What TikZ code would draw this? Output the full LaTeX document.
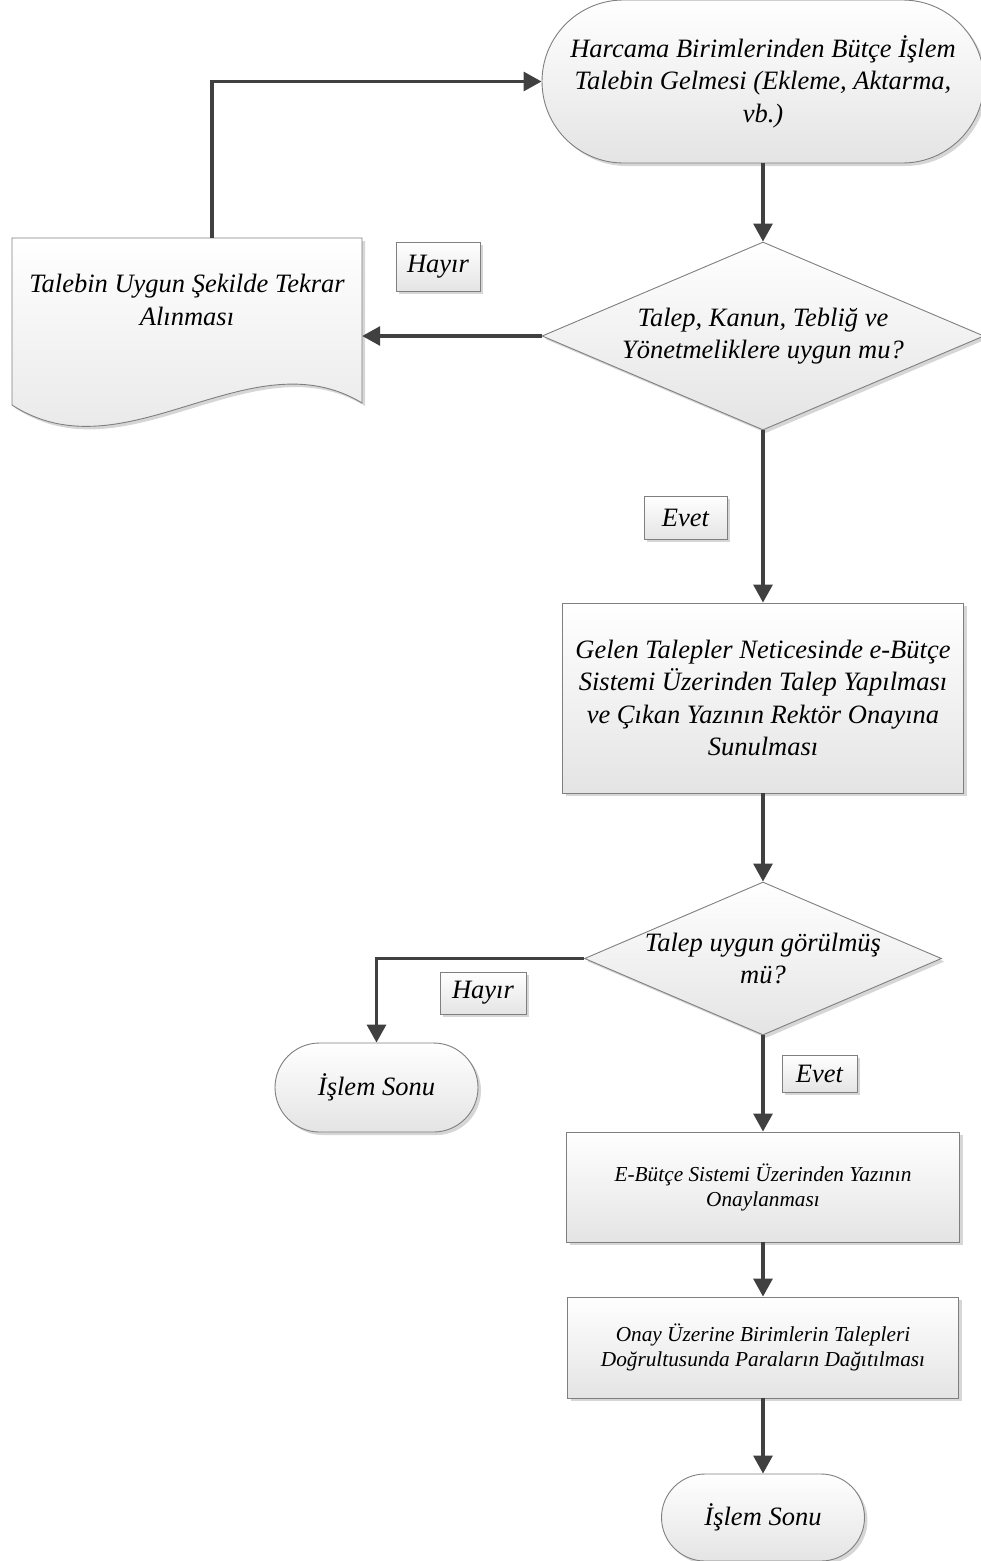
\documentclass[tikz,border=0pt]{standalone}
\usepackage{fontspec}
\setmainfont{Liberation Serif}
\usepackage{xcolor}
\usepackage{tikz}
\usetikzlibrary{arrows.meta,positioning,shapes.geometric,shapes.misc,shadows}

\definecolor{lineC}{HTML}{404040}
\definecolor{edgeC}{HTML}{7F7F7F}
\definecolor{shadeC}{HTML}{E4E4E4}

\begin{document}
\begin{tikzpicture}[x=1pt, y=-1pt,
    font=\fontsize{26.5}{32.5}\selectfont\itshape,
    box/.style={draw=edgeC, line width=0.9pt, top color=white, bottom color=shadeC,
        drop shadow={shadow xshift=3pt, shadow yshift=-3pt, opacity=0.16, fill=black},
        align=center, inner sep=0pt},
    term/.style={box, rounded rectangle},
    decision/.style={box, diamond},
    dtext/.style={align=center, inner sep=0pt},
    small/.style={font=\fontsize{21.3}{25}\selectfont\itshape},
    tag/.style={box},
    flow/.style={draw=lineC, line width=3.2pt, -{Triangle[length=18pt,width=19pt]}}]
    \useasboundingbox (0,0) rectangle (981,1561);

    \node[term, minimum width=442pt, minimum height=163pt] (start) at (763,81.5)
        {Harcama Birimlerinden Bütçe İşlem\\Talebin Gelmesi (Ekleme, Aktarma,\\vb.)};
    \node[decision, minimum width=442pt, minimum height=188pt,
        label={[dtext]center:{Talep, Kanun, Tebliğ ve\\Yönetmeliklere uygun mu?}}] (dec1) at (763,336) {};
    \path[box] (12,238) -- (362,238) -- (362,403) .. controls (250,335) and (125,478) .. (12,405) -- cycle;
    \node[align=center, minimum width=350pt, minimum height=124pt, inner sep=0pt] (redo) at (187,300)
        {Talebin Uygun Şekilde Tekrar\\Alınması};
    \node[box, minimum width=401pt, minimum height=190pt] (proc1) at (763,698)
        {Gelen Talepler Neticesinde e-Bütçe\\Sistemi Üzerinden Talep Yapılması\\ve Çıkan Yazının Rektör Onayına\\Sunulması};
    \node[decision, minimum width=357pt, minimum height=153pt,
        label={[dtext]center:{Talep uygun görülmüş\\mü?}}] (dec2) at (763,958.5) {};
    \node[term, minimum width=203pt, minimum height=89pt] (end1) at (376.5,1087.5) {İşlem Sonu};
    \node[box, small, minimum width=393pt, minimum height=110pt] (proc2) at (763,1187)
        {E-Bütçe Sistemi Üzerinden Yazının\\Onaylanması};
    \node[box, small, minimum width=391pt, minimum height=101pt] (proc3) at (763,1347.5)
        {Onay Üzerine Birimlerin Talepleri\\Doğrultusunda Paraların Dağıtılması};
    \node[term, minimum width=203pt, minimum height=87pt] (end2) at (763,1517.5) {İşlem Sonu};

    \node[tag, minimum width=84pt, minimum height=49pt] (no1) at (438,266.5) {Hayır};
    \node[tag, minimum width=83pt, minimum height=43pt] (yes1) at (685.5,517.5) {Evet};
    \node[tag, minimum width=86pt, minimum height=42pt] (no2) at (483,993) {Hayır};
    \node[tag, minimum width=75pt, minimum height=37pt] (yes2) at (819.5,1073.5) {Evet};

    \draw[flow] (start.south) -- (dec1.north);
    \draw[flow] (dec1.west) -- (dec1.west -| redo.east);
    \draw[flow] ([xshift=25pt]redo.north) |- (start.west);
    \draw[flow] (dec1.south) -- (proc1.north);
    \draw[flow] (proc1.south) -- (dec2.north);
    \draw[flow] (dec2.west) -| (end1.north);
    \draw[flow] (dec2.south) -- (proc2.north);
    \draw[flow] (proc2.south) -- (proc3.north);
    \draw[flow] (proc3.south) -- (end2.north);
\end{tikzpicture}
\end{document}
